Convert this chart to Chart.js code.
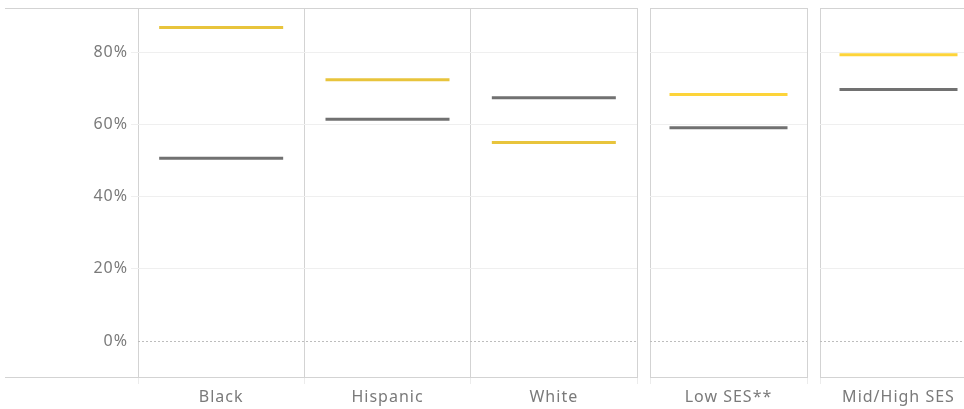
<!DOCTYPE html>
<html>
<head>
<meta charset="utf-8">
<script src="https://cdn.jsdelivr.net/npm/chart.js@4/dist/chart.umd.min.js"></script>
<style>
  html, body { margin: 0; padding: 0; background: #fff; }
  body { width: 964px; height: 409px; position: relative; overflow: hidden; }
  canvas { position: absolute; top: 0; display: block; }
</style>
</head>
<body>
<canvas id="cA" width="638" height="409" style="left:0;width:638px;height:409px"></canvas>
<canvas id="cB" width="158" height="409" style="left:650px;width:158px;height:409px"></canvas>
<canvas id="cC" width="158" height="409" style="left:820px;width:158px;height:409px"></canvas>
<script>
// ---- data ----
const categories = ['Black', 'Hispanic', 'White', 'Low SES**', 'Mid/High SES'];
const panelOf    = [0, 0, 0, 1, 2];
const yellowValues = [87.0, 72.5, 55.1, 68.4, 79.4];
const greyValues   = [50.7, 61.5, 67.5, 59.2, 69.8];
const yTickValues  = [0, 20, 40, 60, 80];
const yMin = -10, yMax = 92.4;

// ---- styles ----
const FONT = { family: "'Noto Sans', sans-serif", size: 16 };
const TEXT = '#7a7a7a';
const BORDER = '#d3d3d3';
const GRID = '#efefef';
const GREY = '#717171';
const YELLOWS = ['#e8c43c', '#fdd43a', '#fdd43a'];
const HALF = [62, 59, 59];

const decor = {
  id: 'decor',
  beforeDraw(chart) { chart.ctx.letterSpacing = '1px'; },
  afterDraw(chart, args, opts) {
    const { ctx, chartArea } = chart;
    const y = chart.scales.y;
    ctx.save();
    const z = Math.round(y.getPixelForValue(0)) + 0.5;
    ctx.strokeStyle = '#bdbdbd';
    ctx.lineWidth = 1;
    ctx.setLineDash([2, 2]);
    ctx.beginPath();
    ctx.moveTo(chartArea.left, z);
    ctx.lineTo(chartArea.right, z);
    ctx.stroke();
    ctx.setLineDash([]);
    if (opts.extend) {
      ctx.strokeStyle = BORDER;
      const t = Math.round(chartArea.top) + 0.5;
      const b = Math.round(chartArea.bottom) + 0.5;
      ctx.beginPath();
      ctx.moveTo(5, t); ctx.lineTo(chartArea.left, t);
      ctx.moveTo(5, b); ctx.lineTo(chartArea.left, b);
      ctx.stroke();
    }
    ctx.restore();
  }
};

function makeChart(canvasId, panel, showY) {
  const idx = categories.map((c, i) => i).filter(i => panelOf[i] === panel);
  const labels = idx.map(i => categories[i]);
  const ds = (label, values, color) => ({
    label: label,
    data: idx.map(i => values[i]),
    showLine: false,
    pointStyle: 'line',
    pointRadius: HALF[panel],
    pointHoverRadius: HALF[panel],
    borderColor: color,
    backgroundColor: color,
    pointBorderWidth: 3,
    pointHoverBorderWidth: 3,
    clip: false
  });
  return new Chart(document.getElementById(canvasId), {
    type: 'line',
    data: {
      labels: labels,
      datasets: [
        ds('Yellow', yellowValues, YELLOWS[panel]),
        ds('Grey', greyValues, GREY)
      ]
    },
    options: {
      responsive: false,
      maintainAspectRatio: false,
      devicePixelRatio: 1,
      animation: false,
      events: [],
      layout: { padding: { top: 8, right: 1, left: 0, bottom: 0 }, autoPadding: false },
      plugins: {
        legend: { display: false },
        tooltip: { enabled: false },
        decor: { extend: showY }
      },
      scales: {
        x: {
          type: 'category',
          offset: true,
          grid: {
            offset: true,
            color: BORDER,
            drawTicks: true,
            tickLength: 7,
            tickColor: '#ececec'
          },
          border: { display: true, color: BORDER },
          ticks: { color: TEXT, font: FONT, padding: 4, maxRotation: 0, autoSkip: false },
          afterFit(s) { s.height = 32; s.paddingLeft = 0; s.paddingRight = 0; }
        },
        y: {
          min: yMin,
          max: yMax,
          afterBuildTicks(s) {
            s.ticks = [{ value: yMin }].concat(yTickValues.map(v => ({ value: v }))).concat([{ value: yMax }]);
          },
          grid: {
            color(ctx) {
              const v = ctx.tick ? ctx.tick.value : null;
              if (v === yMax) return BORDER;
              if (v === yMin || v === 0) return 'rgba(0,0,0,0)';
              return GRID;
            },
            drawTicks: showY,
            tickLength: 7,
            tickColor(ctx) {
              const v = ctx.tick ? ctx.tick.value : null;
              if (v === yMax || v === yMin || v === 0) return 'rgba(0,0,0,0)';
              return GRID;
            }
          },
          border: { display: false },
          ticks: {
            display: showY,
            color: TEXT,
            font: FONT,
            padding: 3,
            callback(v) { return yTickValues.includes(v) ? v + '%' : ''; }
          },
          afterFit(s) { s.width = showY ? 138 : 0; s.paddingTop = 0; s.paddingBottom = 0; }
        }
      }
    },
    plugins: [decor]
  });
}

makeChart('cA', 0, true);
makeChart('cB', 1, false);
makeChart('cC', 2, false);
</script>
</body>
</html>
